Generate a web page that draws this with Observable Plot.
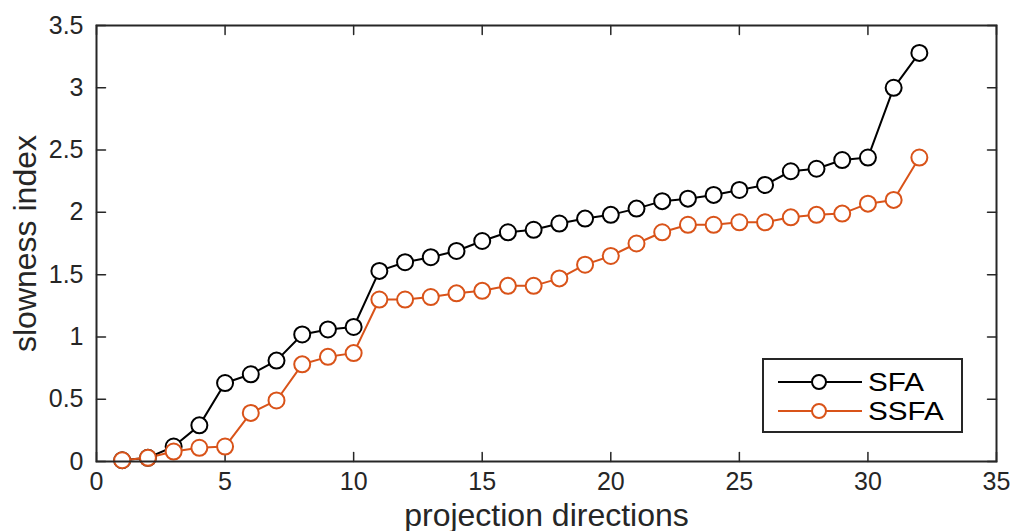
<!DOCTYPE html>
<html>
<head>
<meta charset="utf-8">
<script src="https://cdn.jsdelivr.net/npm/d3@7"></script>
<script src="https://cdn.jsdelivr.net/npm/@observablehq/plot@0.6"></script>
<style>
  html, body { margin: 0; padding: 0; background: #fff; }
  #chart { position: relative; width: 1018px; height: 531px; }
  #chart svg { display: block; }
  #legend { position: absolute; left: 0; top: 0; pointer-events: none; }
</style>
</head>
<body>
<div id="chart"></div>
<script>
// Slowness index of each projection direction, sorted ascending
const directions = d3.range(1, 33);
const sfa = [0.01, 0.03, 0.12, 0.29, 0.63, 0.70, 0.81, 1.02, 1.06, 1.08,
             1.53, 1.60, 1.64, 1.69, 1.77, 1.84, 1.86, 1.91, 1.95, 1.98,
             2.03, 2.09, 2.11, 2.14, 2.18, 2.22, 2.33, 2.35, 2.42, 2.44,
             3.00, 3.28];
const ssfa = [0.01, 0.03, 0.08, 0.11, 0.12, 0.39, 0.49, 0.78, 0.84, 0.87,
              1.30, 1.30, 1.32, 1.35, 1.37, 1.41, 1.41, 1.47, 1.58, 1.65,
              1.75, 1.84, 1.90, 1.90, 1.92, 1.92, 1.96, 1.98, 1.99, 2.07,
              2.10, 2.44];
const seriesNames = ["SFA", "SSFA"];
const seriesColors = ["#000000", "#D95319"];
const xTicks = [0, 5, 10, 15, 20, 25, 30, 35];
const yTicks = [0, 0.5, 1, 1.5, 2, 2.5, 3, 3.5];

const series = [sfa, ssfa];
const rows = seriesNames.flatMap((name, s) =>
  directions.map((d, i) => ({direction: d, value: series[s][i], name})));

const font = "'Liberation Sans', Arial, Helvetica, sans-serif";
const axisColor = "#262626";
const W = 1018, H = 531;
const M = {left: 96, right: 22, top: 25, bottom: 70};

// straight tick stub drawn inward from the frame
const stub = {draw(ctx, l) { ctx.moveTo(0, 0); ctx.lineTo(0, -l); }};
const tickLen = 9;
const tickStyle = {shape: stub, length: tickLen, anchor: "start", stroke: axisColor, strokeWidth: 1.5};

const chart = Plot.plot({
  width: W,
  height: H,
  marginLeft: M.left,
  marginRight: M.right,
  marginTop: M.top,
  marginBottom: M.bottom,
  style: {fontFamily: font, background: "#fff", color: axisColor},
  x: {domain: [0, 35], ticks: xTicks},
  y: {domain: [0, 3.5], ticks: yTicks},
  color: {domain: seriesNames, range: seriesColors},
  marks: [
    // inward ticks on all four sides
    Plot.vector(xTicks, {x: d => d, y: 0, rotate: 0, ...tickStyle}),
    Plot.vector(xTicks, {x: d => d, y: 3.5, rotate: 180, ...tickStyle}),
    Plot.vector(yTicks, {x: 0, y: d => d, rotate: 90, ...tickStyle}),
    Plot.vector(yTicks, {x: 35, y: d => d, rotate: 270, ...tickStyle}),
    Plot.axisX({ticks: xTicks, tickSize: 0, tickPadding: 11, fontSize: 25, label: null, fill: axisColor}),
    Plot.axisY({ticks: yTicks, tickSize: 0, tickPadding: 13, fontSize: 25, label: null, fill: axisColor,
                tickFormat: d => String(d)}),
    Plot.text(["projection directions"], {frameAnchor: "bottom", textAnchor: "middle", lineAnchor: "bottom",
                                          dy: 64, fontSize: 32, fill: axisColor}),
    Plot.text(["slowness index"], {frameAnchor: "left", textAnchor: "middle", lineAnchor: "middle",
                                   rotate: -90, dx: -71, fontSize: 32, fill: axisColor}),
    Plot.line(rows, {x: "direction", y: "value", z: "name", stroke: "name", strokeWidth: 2}),
    Plot.dot(rows, {x: "direction", y: "value", stroke: "name", fill: "#fff", r: 8, strokeWidth: 2}),
    Plot.frame({stroke: axisColor, strokeWidth: 2})
  ]
});

const host = document.getElementById("chart");
host.appendChild(chart);

// legend box in the lower-right corner of the axes
const legend = d3.select(host).append("svg")
  .attr("id", "legend")
  .attr("width", W)
  .attr("height", H);
const box = {x: 763, y: 359, w: 199, h: 73};
legend.append("rect")
  .attr("x", box.x).attr("y", box.y).attr("width", box.w).attr("height", box.h)
  .attr("fill", "#fff").attr("stroke", axisColor).attr("stroke-width", 2);
const rowY = [382, 411];
seriesNames.forEach((name, i) => {
  const g = legend.append("g").attr("transform", `translate(0,${rowY[i]})`);
  g.append("line").attr("x1", 778).attr("x2", 862).attr("y1", 0).attr("y2", 0)
    .attr("stroke", seriesColors[i]).attr("stroke-width", 2);
  g.append("circle").attr("cx", 819).attr("cy", 0).attr("r", 7)
    .attr("fill", "#fff").attr("stroke", seriesColors[i]).attr("stroke-width", 2);
  // entry label, widened slightly so the rows stay compact
  g.append("text").attr("transform", "translate(868,0) scale(1.14,1)").attr("dy", "0.36em")
    .attr("font-family", font).attr("font-size", 26).attr("fill", "#000")
    .text(name);
});
</script>
</body>
</html>
